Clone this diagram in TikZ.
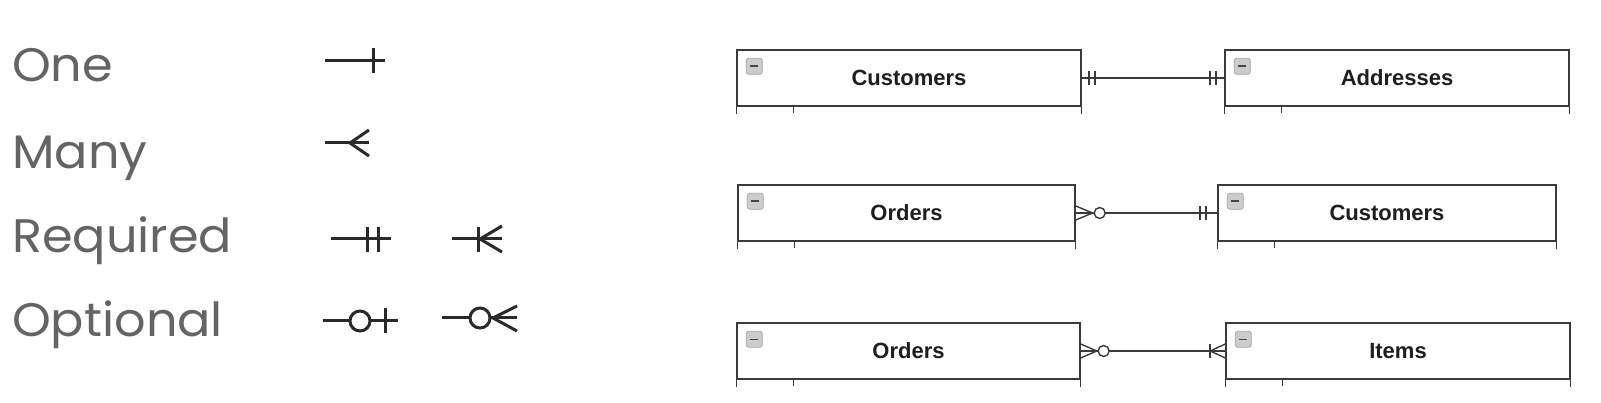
\documentclass[tikz,border=0pt]{standalone}
\usepackage{fontspec}
\setmainfont{Liberation Sans}
\newfontfamily\legendfont[FakeStretch=1.05]{Poppins}
\usetikzlibrary{calc}
\definecolor{legendgray}{HTML}{646464}
\definecolor{boxline}{HTML}{3A3A3A}
\definecolor{symline}{HTML}{2A2A2A}
\definecolor{labeltext}{HTML}{1E1E1E}
\tikzset{
  legendlabel/.style={anchor=base west, inner sep=0, text=legendgray, font=\legendfont\fontsize{47}{47}\selectfont},
  sym/.style={draw=symline, line width=3pt},
  entity/.style={draw=boxline, line width=1.4pt, fill=white, minimum height=56pt, inner sep=0,
    font=\bfseries\fontsize{22}{22}\selectfont, text=labeltext},
  legs/.style={draw=boxline, line width=1.4pt},
  conn/.style={draw=boxline, line width=1.4pt},
  bar/.style={draw=boxline, line width=1.9pt},
  entityicon/.pic={
    \draw[draw=gray!70, fill=gray!40, rounded corners=2.5pt, line width=0.8pt] (-8,-8) rectangle (8,8);
    \draw[line width=1.6pt, gray!55!black] (-4,0) -- (4,0);
  }
}
\newcommand{\entityextras}[1]{%
  \draw[legs] (#1.south west) -- ++(0,7);
  \draw[legs] (#1.south east) -- ++(0,7);
  \draw[legs] ($(#1.south west)+(57,0)$) -- ++(0,6);
  \pic at ($(#1.north west)+(18,17)$) {entityicon};
}
\begin{document}
\begin{tikzpicture}[x=1pt,y=-1pt]
\fill[white] (0,0) rectangle (1601,403);
\useasboundingbox (0,0) rectangle (1601,403);

% legend labels
\node[legendlabel] (lone) at (12,82) {One};
\node[legendlabel] (lmany) at (12,169) {Many};
\node[legendlabel] (lreq) at (12,253) {Required};
\node[legendlabel] (lopt) at (12,337) {Optional};

% legend symbols: one
\draw[sym] (325,61) -- (385,61);
\draw[sym] (373,48) -- (373,73);
% many
\draw[sym] (325,143) -- (350,143);
\draw[sym] (369,130) -- (350,143) -- (369,156);
\draw[sym] (350,143) -- (369,143);
% required one
\draw[sym] (331,239) -- (391,239);
\draw[sym] (367,227) -- (367,252);
\draw[sym] (378,227) -- (378,252);
% required many
\draw[sym] (452,239) -- (502,239);
\draw[sym] (478,227) -- (478,252);
\draw[sym] (502,226) -- (480,239) -- (502,252);
% optional one
\draw[sym] (323,321) -- (350,321);
\draw[sym] (370,321) -- (398,321);
\draw[sym] (360,321) circle (10);
\draw[sym] (385,308) -- (385,333);
% optional many
\draw[sym] (442,318) -- (470,318);
\draw[sym] (480,318) circle (10);
\draw[sym] (490,318) -- (517,318);
\draw[sym] (517,306) -- (493,318) -- (517,331);

% entities
\node[entity, minimum width=344pt] (c1) at (909,78) {Customers};
\node[entity, minimum width=344pt] (a1) at (1397,78) {Addresses};
\node[entity, minimum width=337pt] (o2) at (906.5,213) {Orders};
\node[entity, minimum width=338pt] (c2) at (1387,213) {Customers};
\node[entity, minimum width=343pt] (o3) at (908.5,351) {Orders};
\node[entity, minimum width=344pt] (i3) at (1398,351) {Items};
\entityextras{c1}
\entityextras{a1}
\entityextras{o2}
\entityextras{c2}
\entityextras{o3}
\entityextras{i3}

% row 1: one-and-only-one to one-and-only-one
\draw[conn] (c1.east) -- (a1.west);
\draw[bar] ($(c1.east)+(7,-7)$) -- ++(0,14);
\draw[bar] ($(c1.east)+(13,-7)$) -- ++(0,14);
\draw[bar] ($(a1.west)+(-14,-7)$) -- ++(0,14);
\draw[bar] ($(a1.west)+(-8,-7)$) -- ++(0,14);

% row 2: zero-or-many to one-and-only-one
\draw[conn] ($(o2.east)+(29,0)$) -- (c2.west);
\draw[conn] ($(o2.east)+(0,-7)$) -- ($(o2.east)+(17,0)$) -- ($(o2.east)+(0,7)$);
\draw[conn] (o2.east) -- ($(o2.east)+(19,0)$);
\draw[conn, fill=white] ($(o2.east)+(24,0)$) circle (5.5);
\draw[bar] ($(c2.west)+(-17,-7)$) -- ++(0,14);
\draw[bar] ($(c2.west)+(-11,-7)$) -- ++(0,14);

% row 3: zero-or-many to one-or-many
\draw[conn] ($(o3.east)+(28,0)$) -- (i3.west);
\draw[conn] ($(o3.east)+(0,-7)$) -- ($(o3.east)+(16,0)$) -- ($(o3.east)+(0,7)$);
\draw[conn] (o3.east) -- ($(o3.east)+(18,0)$);
\draw[conn, fill=white] ($(o3.east)+(23,0)$) circle (5.5);
\draw[bar] ($(i3.west)+(-15,-7)$) -- ++(0,14);
\draw[conn] ($(i3.west)+(0,-7)$) -- ($(i3.west)+(-15,0)$) -- ($(i3.west)+(0,7)$);
\end{tikzpicture}
\end{document}
